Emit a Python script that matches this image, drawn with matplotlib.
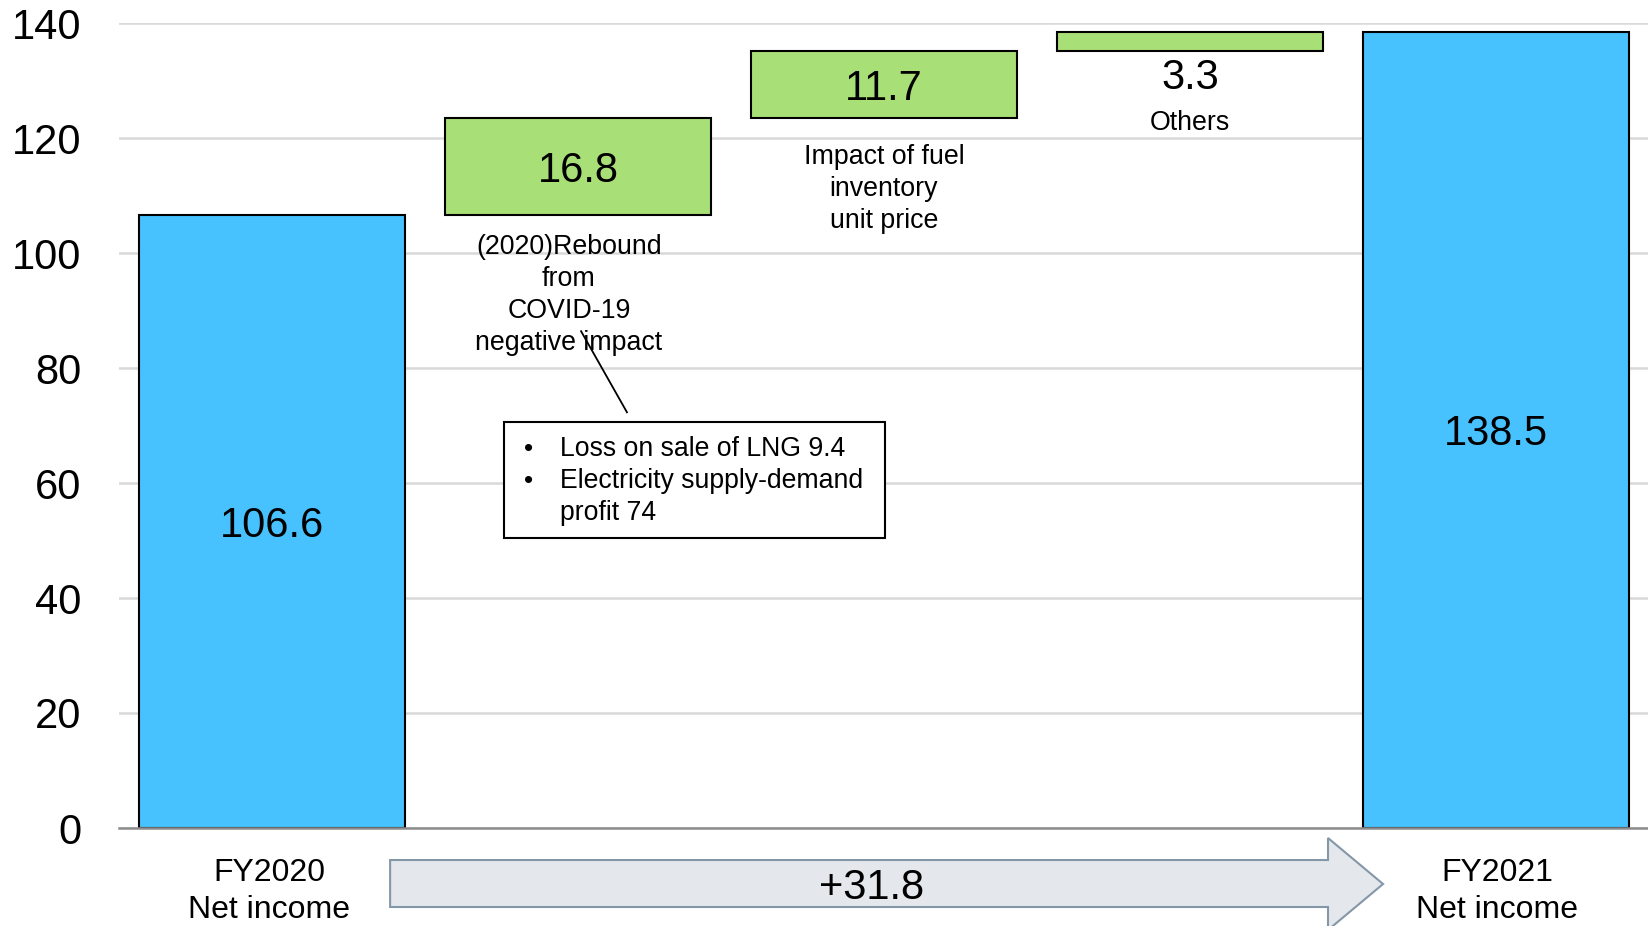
import numpy as np
import matplotlib
matplotlib.use("Agg")
import matplotlib.pyplot as plt
from matplotlib.patches import Polygon, Rectangle

plt.rcParams['font.family'] = ['Liberation Sans', 'DejaVu Sans']

# ---- data ----
categories = ["FY2020\nNet income",
              "(2020)Rebound\nfrom\nCOVID-19\nnegative impact",
              "Impact of fuel\ninventory\nunit price",
              "Others",
              "FY2021\nNet income"]
start_total = 106.6
changes = [16.8, 11.7, 3.3]
end_total = 138.5
total_change_label = "+31.8"
callout_lines = ["Loss on sale of LNG 9.4",
                 "Electricity supply-demand",
                 "profit 74"]
yticks = [0, 20, 40, 60, 80, 100, 120, 140]

BLUE = "#47C2FE"
GREEN = "#A9DF77"

fig = plt.figure(figsize=(16.49, 9.26), dpi=100)
ax = fig.add_axes([119/1649, 1 - 828/926, 1 - 119/1649, (828 - 23)/926])

w = 0.87
# totals
ax.bar([0, 4], [start_total, end_total], width=w, color=BLUE,
       edgecolor="black", linewidth=1.5, zorder=3)
# floating changes
bottoms = start_total + np.concatenate([[0], np.cumsum(changes)[:-1]])
ax.bar([1, 2, 3], changes, bottom=bottoms, width=w, color=GREEN,
       edgecolor="black", linewidth=1.5, zorder=3)

ax.set_xlim(-0.5, 4.5)
ax.set_ylim(0, 140)
ax.set_yticks(yticks)
ax.set_yticklabels([str(t) for t in yticks], fontsize=30)
ax.tick_params(axis='y', length=0, pad=27)
ax.set_xticks([])
ax.yaxis.grid(True, color="#D9D9D9", linewidth=1.8, zorder=0)
ax.set_axisbelow(True)
for s in ["top", "right", "left"]:
    ax.spines[s].set_visible(False)
ax.spines["bottom"].set_color("#8C8C8C")
ax.spines["bottom"].set_linewidth(1.8)
ax.spines["bottom"].set_zorder(4)

# value labels
dy = -0.8
ax.text(0, start_total / 2 + dy, f"{start_total}", ha='center', va='center', fontsize=30, zorder=5)
ax.text(4, end_total / 2 + dy, f"{end_total}", ha='center', va='center', fontsize=30, zorder=5)
ax.text(1, bottoms[0] + changes[0] / 2 + dy, f"{changes[0]}", ha='center', va='center', fontsize=30, zorder=5)
ax.text(2, bottoms[1] + changes[1] / 2 + dy, f"{changes[1]}", ha='center', va='center', fontsize=30, zorder=5)
ax.text(3, 130.5, f"{changes[2]}", ha='center', va='center', fontsize=30, zorder=5)

# category descriptions
ax.text(0.97, 103.3, categories[1], ha='center', va='top', fontsize=19.3, linespacing=1.3, zorder=5)
ax.text(2.0, 119.0, categories[2], ha='center', va='top', fontsize=19.3, linespacing=1.3, zorder=5)
ax.text(3.0, 122.6, categories[3], ha='center', va='center', fontsize=19.3, zorder=5)

# bottom category labels
for i, xo in ((0, -0.01), (4, 0.003)):
    ax.text(i + xo, -5.3, categories[i], ha='center', va='top', fontsize=23,
            linespacing=1.3, clip_on=False)

# callout box
ax.add_patch(Rectangle((0.758, 50.4), 2.003 - 0.758, 70.6 - 50.4, facecolor="white",
                       edgecolor="black", linewidth=1.5, zorder=6))
for yy, line in zip([66.0, 60.3, 54.8], callout_lines):
    ax.text(0.941, yy, line, ha='left', va='center', fontsize=19.2, zorder=7)
for yy in [66.0, 60.3]:
    ax.text(0.837, yy, "\u2022", ha='center', va='center', fontsize=19, zorder=7)
ax.plot([1.010, 1.160], [86.4, 72.3], color="black", linewidth=1.3, zorder=7)

# big arrow
arrow = Polygon([(0.386, -5.57), (3.451, -5.57), (3.451, -1.74), (3.631, -9.74),
                 (3.451, -17.74), (3.451, -13.74), (0.386, -13.74)],
                closed=True, facecolor="#E4E8EC", edgecolor="#8497A8",
                linewidth=1.5, clip_on=False, zorder=2)
ax.add_patch(arrow)
ax.text(1.96, -10.5, total_change_label, ha='center', va='center', fontsize=30,
        clip_on=False, zorder=3)

fig.savefig("out.png", dpi=100)
